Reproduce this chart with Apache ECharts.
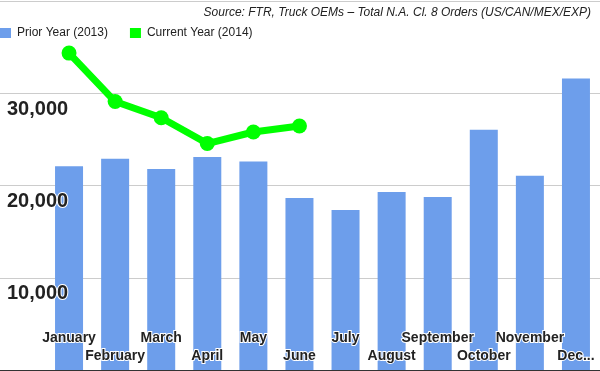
<!DOCTYPE html>
<html>
<head>
<meta charset="utf-8">
<script src="https://cdn.jsdelivr.net/npm/echarts@6/dist/echarts.min.js"></script>
<style>
html,body{margin:0;padding:0;background:#fff;}
#chart{width:600px;height:371px;}
</style>
</head>
<body>
<div id="chart"></div>
<script>
const months = ['January','February','March','April','May','June','July','August','September','October','November','December'];
const priorYear = [22100, 22900, 21800, 23100, 22600, 18650, 17350, 19300, 18750, 26050, 21050, 31600];
const currentYear = [34350, 29100, 27350, 24550, 25800, 26450, null, null, null, null, null, null];
const yMin = 0, yMax = 40000, yInterval = 10000;
const sourceText = 'Source: FTR, Truck OEMs \u2013 Total N.A. Cl. 8 Orders (US/CAN/MEX/EXP)';

const chart = echarts.init(document.getElementById('chart'), null, {renderer:'canvas'});
const FONT = '"Liberation Sans", Arial, sans-serif';
chart.setOption({
  animation: false,
  backgroundColor: '#fff',
  textStyle: {fontFamily: FONT},
  title: {
    text: sourceText, right: 9, top: 7, padding: 0,
    textStyle: {fontFamily: FONT, fontSize: 12, fontStyle: 'italic', fontWeight: 'normal', color: '#222'}
  },
  legend: {
    left: 0, top: 27, padding: 0, icon: 'rect', itemWidth: 11, itemHeight: 10, itemGap: 22,
    textStyle: {fontFamily: FONT, fontSize: 12, color: '#222', padding: [1,0,0,1]},
    data: ['Prior Year (2013)', 'Current Year (2014)']
  },
  grid: [
    {left: 0, right: 0, top: 1, bottom: 1},
    {left: 46, right: 1, top: 1, bottom: 1}
  ],
  xAxis: [
    {gridIndex: 0, type: 'value', min: 0, max: 1,
     axisLine: {show: true, lineStyle: {color: '#333', width: 1}},
     axisTick: {show: false}, axisLabel: {show: false}, splitLine: {show: false}},
    {gridIndex: 1, type: 'category', data: months, z: 10,
     axisLine: {show: false}, axisTick: {show: false}, splitLine: {show: false},
     axisLabel: {
       inside: true, interval: 0, margin: 7,
       formatter: function (v, i) {
         let t = (i === months.length - 1) ? v.slice(0, 3) + '...' : v;
         return i % 2 === 0 ? '{a|' + t + '}' : '{b|' + t + '}';
       },
       rich: {
         a: {fontFamily: FONT, fontSize: 14, fontWeight: 'bold', color: '#222', textBorderColor: '#fff', textBorderWidth: 2, padding: [0,0,18,0]},
         b: {fontFamily: FONT, fontSize: 14, fontWeight: 'bold', color: '#222', textBorderColor: '#fff', textBorderWidth: 2}
       }
     }}
  ],
  yAxis: [
    {gridIndex: 0, type: 'value', position: 'left', min: yMin, max: yMax, interval: yInterval, z: 0,
     axisLine: {show: false}, axisTick: {show: false}, axisLabel: {show: false},
     splitLine: {show: true, lineStyle: {color: '#cccccc', width: 1}}},
    {gridIndex: 0, type: 'value', position: 'left', offset: 0, min: yMin, max: yMax, interval: yInterval, z: 10,
     axisLine: {show: false, onZero: false}, axisTick: {show: false}, splitLine: {show: false},
     axisLabel: {
       inside: true, margin: 7, verticalAlign: 'top', padding: [6,0,0,0],
       fontFamily: FONT, fontSize: 20, fontWeight: 'bold', color: '#222',
       textBorderColor: '#fff', textBorderWidth: 2,
       formatter: function (v) { return (v === yMin || v === yMax) ? '' : v.toLocaleString('en-US'); }
     }},
    {gridIndex: 1, type: 'value', min: yMin, max: yMax, interval: yInterval, show: false}
  ],
  series: [
    {name: 'Prior Year (2013)', type: 'bar', xAxisIndex: 1, yAxisIndex: 2, data: priorYear,
     barWidth: 28, itemStyle: {color: '#6d9eeb'}, z: 2},
    {name: 'Current Year (2014)', type: 'line', xAxisIndex: 1, yAxisIndex: 2, data: currentYear,
     symbol: 'circle', symbolSize: 15, showSymbol: true,
     lineStyle: {color: '#00ff00', width: 7}, itemStyle: {color: '#00ff00'}, z: 3}
  ]
});
</script>
</body>
</html>
